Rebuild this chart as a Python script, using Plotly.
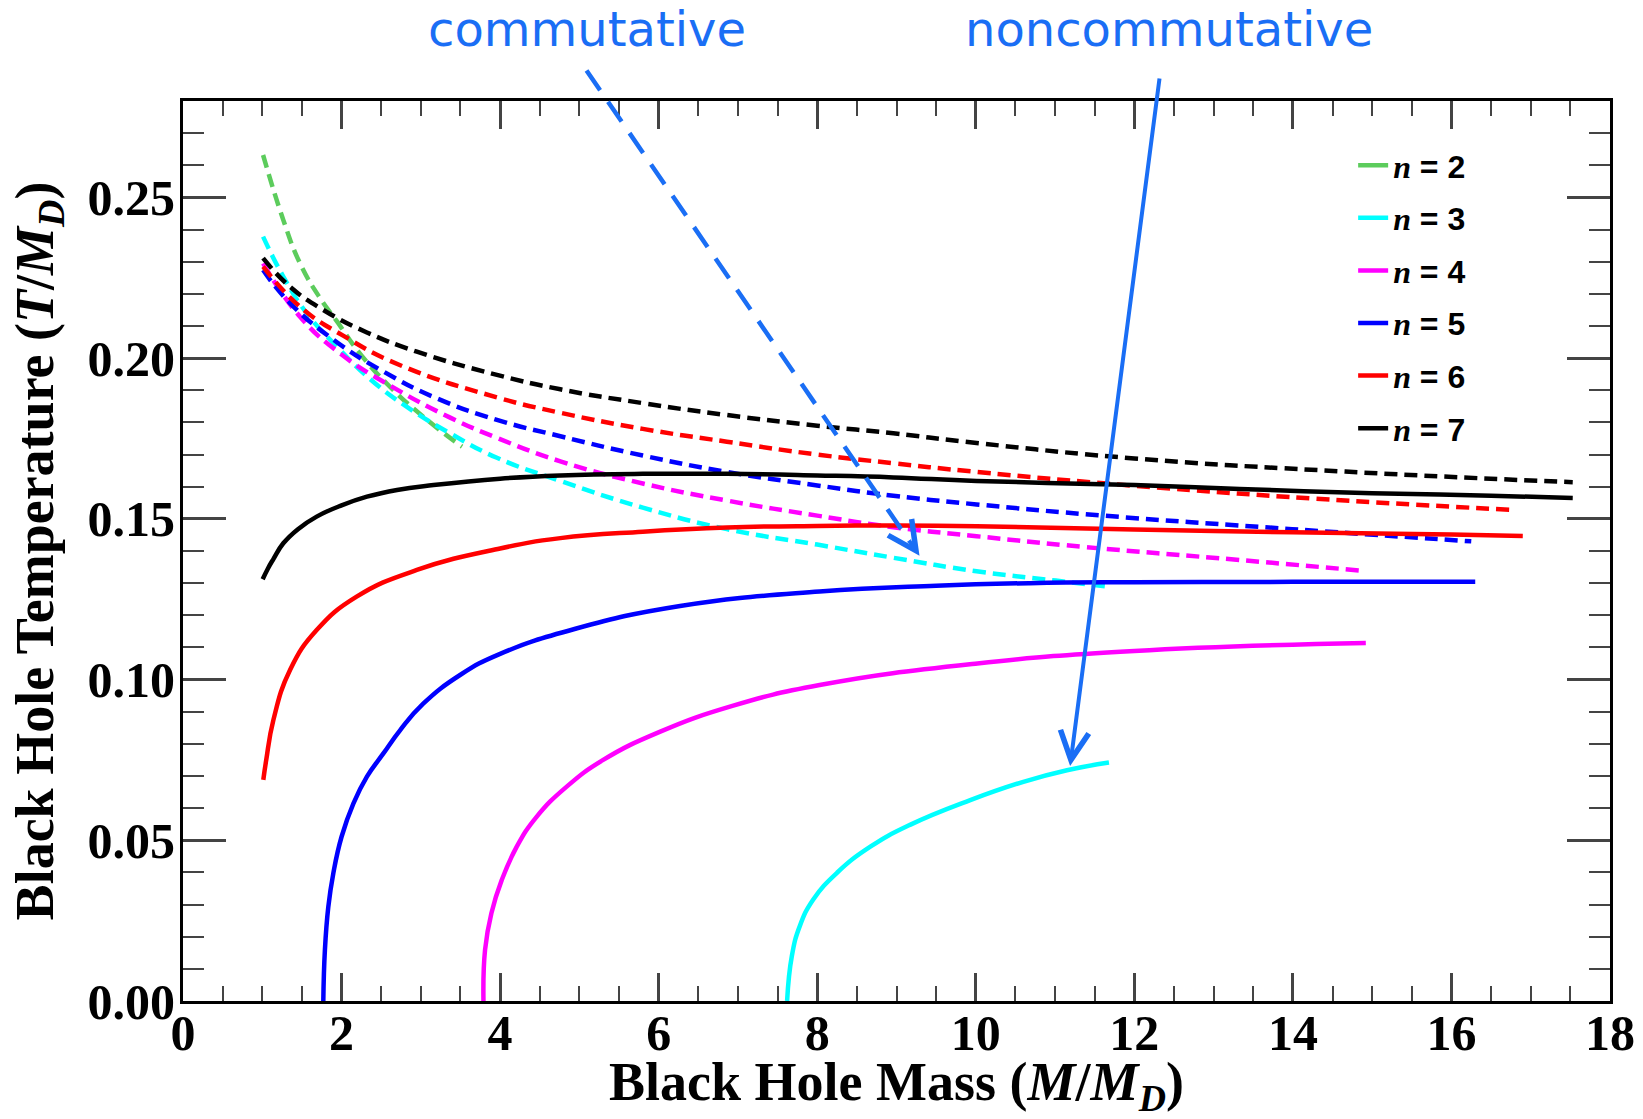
import plotly.graph_objects as go

# ---------------- axis ranges ----------------
X_RANGE = [0, 18]
Y_RANGE = [0, 0.28]
X_TICKS = [0, 2, 4, 6, 8, 10, 12, 14, 16, 18]
Y_TICKS = [0.00, 0.05, 0.10, 0.15, 0.20, 0.25]

series_names = ["n = 2", "n = 3", "n = 4", "n = 5", "n = 6", "n = 7"]

# ---------------- commutative (dashed) ----------------
comm_n2_x = [1.01, 1.265, 1.476, 1.728, 1.94, 2.23, 2.61, 3.03, 3.45, 3.52]
comm_n2_y = [0.2632, 0.2430, 0.2295, 0.2187, 0.2115, 0.2015, 0.1911, 0.1818, 0.1737, 0.1725]

comm_n3_x = [1.01, 1.265, 1.56, 1.94, 2.36, 2.82, 3.37, 3.96, 4.76, 5.8, 6.86, 8.0, 8.96, 10.01, 11.01, 11.68]
comm_n3_y = [0.2378, 0.2254, 0.2140, 0.2036, 0.1935, 0.1849, 0.1766, 0.1690, 0.1618, 0.1535, 0.1468, 0.1420, 0.1379, 0.1337, 0.1308, 0.1289]

comm_n4_x = [1.01, 1.476, 1.98, 2.61, 3.37, 3.96, 4.76, 5.8, 6.86, 8.0, 8.96, 10.01, 11.35, 13.33, 14.86]
comm_n4_y = [0.2295, 0.2129, 0.2015, 0.1915, 0.1815, 0.1752, 0.1679, 0.1610, 0.1557, 0.1510, 0.1474, 0.1446, 0.1413, 0.1372, 0.1339]

comm_n5_x = [1.01, 1.35, 1.9, 2.53, 3.2, 3.96, 4.76, 5.8, 6.86, 8.0, 8.96, 10.01, 11.61, 13.99, 16.25]
comm_n5_y = [0.2274, 0.2171, 0.2057, 0.1958, 0.1875, 0.1808, 0.1757, 0.1697, 0.1646, 0.1604, 0.1572, 0.1545, 0.1510, 0.1468, 0.1430]

comm_n6_x = [1.01, 1.476, 2.02, 2.74, 3.96, 4.76, 5.8, 6.86, 8.0, 8.96, 10.01, 12.0, 14.66, 16.78]
comm_n6_y = [0.2285, 0.2160, 0.2070, 0.1978, 0.1878, 0.1830, 0.1780, 0.1740, 0.1700, 0.1673, 0.1646, 0.1603, 0.1557, 0.1528]

comm_n7_x = [1.01, 1.35, 1.77, 2.32, 2.95, 3.96, 4.76, 5.8, 6.86, 8.0, 8.96, 10.01, 12.0, 14.66, 17.53]
comm_n7_y = [0.2311, 0.2222, 0.2150, 0.2080, 0.2020, 0.1948, 0.1903, 0.1860, 0.1823, 0.1790, 0.1766, 0.1736, 0.1688, 0.1647, 0.1614]

# ---------------- noncommutative (solid) ----------------
nc_n3_x = [7.62, 7.68, 7.78, 7.95, 8.25, 8.67, 9.17, 9.93, 10.6, 11.15, 11.68]
nc_n3_y = [0.0, 0.0140, 0.0233, 0.0316, 0.0399, 0.0480, 0.0548, 0.0625, 0.0682, 0.0718, 0.0742]

nc_n4_x = [3.79, 3.81, 3.89, 4.02, 4.21, 4.46, 4.84, 5.30, 6.02, 6.93, 8.03, 10.02, 12.0, 14.92]
nc_n4_y = [0.0, 0.0159, 0.0273, 0.0376, 0.0480, 0.0573, 0.0667, 0.0750, 0.0838, 0.0918, 0.0983, 0.1050, 0.1089, 0.1114]

nc_n5_x = [1.77, 1.79, 1.833, 1.896, 2.0, 2.15, 2.32, 2.53, 2.74, 3.03, 3.5, 4.0, 4.95, 6.27, 8.03, 9.5, 10.68, 12.0, 14.0, 16.3]
nc_n5_y = [0.0, 0.0159, 0.0293, 0.0397, 0.0511, 0.0615, 0.0698, 0.0771, 0.0843, 0.0925, 0.1015, 0.1080, 0.1158, 0.1229, 0.1274, 0.1292, 0.1300, 0.1303, 0.1304, 0.1304]

nc_n6_x = [1.013, 1.05, 1.14, 1.35, 1.686, 2.19, 2.95, 4.0, 4.76, 5.8, 6.86, 8.0, 8.96, 10.01, 12.0, 14.0, 16.0, 16.9]
nc_n6_y = [0.0688, 0.0750, 0.0874, 0.1030, 0.1154, 0.1258, 0.1341, 0.1408, 0.1440, 0.1460, 0.1473, 0.1478, 0.1479, 0.1477, 0.1467, 0.1458, 0.1451, 0.1447]

nc_n7_x = [1.005, 1.07, 1.14, 1.265, 1.45, 1.686, 2.0, 2.32, 2.7, 3.16, 4.0, 4.76, 5.8, 6.86, 8.0, 8.96, 10.01, 12.0, 13.33, 15.0, 16.5, 17.53]
nc_n7_y = [0.1312, 0.1345, 0.1375, 0.1424, 0.1468, 0.1507, 0.1542, 0.1569, 0.1590, 0.1605, 0.1625, 0.1635, 0.1640, 0.1640, 0.1635, 0.1629, 0.1618, 0.1605, 0.1593, 0.1580, 0.1572, 0.1565]

# ---------------- annotation arrows (data units) ----------------
comm_arrow_tail = (5.09, 0.2895)
comm_arrow_head = (9.29, 0.1385)
noncomm_arrow_tail = (12.32, 0.2875)
noncomm_arrow_head = (11.19, 0.0731)

colors = {"n = 2": "#5ccc5c", "n = 3": "#00ffff", "n = 4": "#ff00ff",
          "n = 5": "#0000ff", "n = 6": "#ff0000", "n = 7": "#000000"}
ANN_BLUE = "#1a6ef5"

comm = {"n = 2": (comm_n2_x, comm_n2_y), "n = 3": (comm_n3_x, comm_n3_y),
        "n = 4": (comm_n4_x, comm_n4_y), "n = 5": (comm_n5_x, comm_n5_y),
        "n = 6": (comm_n6_x, comm_n6_y), "n = 7": (comm_n7_x, comm_n7_y)}
noncomm = {"n = 3": (nc_n3_x, nc_n3_y), "n = 4": (nc_n4_x, nc_n4_y),
           "n = 5": (nc_n5_x, nc_n5_y), "n = 6": (nc_n6_x, nc_n6_y),
           "n = 7": (nc_n7_x, nc_n7_y)}

W, H = 1643, 1119
ML, MR, MT, MB = 183, 33, 101, 118

fig = go.Figure()

def legend_label(name):
    num = name.split("=")[1].strip()
    return ("<span style=\"font-family:Liberation Serif\"><i>n</i></span> = " + num)

for name in series_names:
    if name in comm:
        x, y = comm[name]
        fig.add_trace(go.Scatter(x=x, y=y, mode="lines", showlegend=False,
                                 line=dict(color=colors[name], width=4.5, dash="13px,7px",
                                           shape="spline", smoothing=1.3)))

for i, name in enumerate(series_names):
    if name in noncomm:
        x, y = noncomm[name]
    else:
        x, y = [None], [None]
    fig.add_trace(go.Scatter(x=x, y=y, mode="lines", name=legend_label(name),
                             legendgroup=name, legendrank=i + 1,
                             line=dict(color=colors[name], width=4.5,
                                       shape="spline", smoothing=1.3)))

# dashed shaft of the "commutative" arrow (paper coords from data units)
def to_paper(pt):
    return ((pt[0] - X_RANGE[0]) / (X_RANGE[1] - X_RANGE[0]),
            (pt[1] - Y_RANGE[0]) / (Y_RANGE[1] - Y_RANGE[0]))

t0 = to_paper(comm_arrow_tail)
h0 = to_paper(comm_arrow_head)
fig.add_shape(type="line", xref="paper", yref="paper",
              x0=t0[0], y0=t0[1], x1=h0[0] - (h0[0] - t0[0]) * 0.03,
              y1=h0[1] - (h0[1] - t0[1]) * 0.03,
              line=dict(color=ANN_BLUE, width=4.5, dash="24px,14px"))

# head of commutative arrow (pixel offset along the shaft direction)
pw, ph = W - ML - MR, H - MT - MB
dxp = (h0[0] - t0[0]) * pw
dyp = -(h0[1] - t0[1]) * ph
L = (dxp ** 2 + dyp ** 2) ** 0.5
fig.add_annotation(x=comm_arrow_head[0], y=comm_arrow_head[1], xref="x", yref="y",
                   ax=-dxp / L * 20, ay=-dyp / L * 20, text="", showarrow=True,
                   arrowhead=5, arrowsize=1.4, arrowwidth=4, arrowcolor=ANN_BLUE)

# noncommutative solid arrow
fig.add_annotation(x=noncomm_arrow_head[0], y=noncomm_arrow_head[1], xref="x", yref="y",
                   ax=noncomm_arrow_tail[0], ay=noncomm_arrow_tail[1], axref="x", ayref="y",
                   text="", showarrow=True, arrowhead=5, arrowsize=1.4,
                   arrowwidth=4, arrowcolor=ANN_BLUE)

fig.add_annotation(text="commutative", xref="paper", yref="paper",
                   x=(587 - ML) / pw, y=(H - MB - 29) / ph, showarrow=False,
                   xanchor="center", yanchor="middle",
                   font=dict(family="DejaVu Sans", size=48, color=ANN_BLUE))
fig.add_annotation(text="noncommutative", xref="paper", yref="paper",
                   x=(1169 - ML) / pw, y=(H - MB - 29) / ph, showarrow=False,
                   xanchor="center", yanchor="middle",
                   font=dict(family="DejaVu Sans", size=48, color=ANN_BLUE))

tickfont = dict(family="Liberation Serif", size=50, color="black", weight="bold")
titlefont = dict(family="Liberation Serif", size=54, color="black", weight="bold")

fig.update_layout(
    width=W, height=H,
    margin=dict(l=ML, r=MR, t=MT, b=MB, autoexpand=False),
    paper_bgcolor="white", plot_bgcolor="white",
    legend=dict(x=0.820, y=0.959, xanchor="left", yanchor="top",
                bgcolor="rgba(0,0,0,0)", tracegroupgap=8,
                font=dict(family="Liberation Sans", size=32, color="black", weight="bold")),
    xaxis=dict(range=X_RANGE, tickvals=X_TICKS, ticks="inside", ticklen=28, tickwidth=2.5,
               showline=True, linewidth=3, linecolor="black", mirror="ticks",
               showgrid=False, zeroline=False, tickfont=tickfont, automargin=False,
               ticklabelstandoff=-14,
               minor=dict(dtick=0.5, ticks="inside", ticklen=15, tickwidth=2, showgrid=False),
               title=dict(text="Black Hole Mass (<i>M</i>/<i>M</i><sub><i>D</i></sub>)",
                          font=titlefont, standoff=22)),
    yaxis=dict(range=Y_RANGE, tickvals=Y_TICKS, tickformat=".2f", ticks="inside", ticklen=43,
               tickwidth=2.5, showline=True, linewidth=3, linecolor="black", mirror="ticks",
               showgrid=False, zeroline=False, tickfont=tickfont, automargin=False,
               ticklabelstandoff=-5,
               minor=dict(dtick=0.01, ticks="inside", ticklen=21, tickwidth=2, showgrid=False),
               title=dict(text="Black Hole Temperature (<i>T</i>/<i>M</i><sub><i>D</i></sub>)",
                          font=titlefont, standoff=17)),
)

fig.write_html("out.html")
